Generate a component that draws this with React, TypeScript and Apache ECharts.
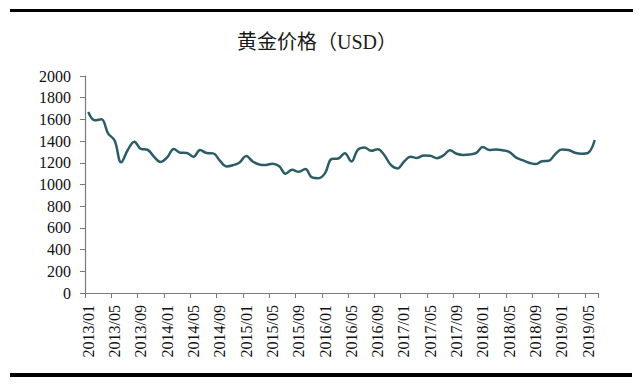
import React, { useEffect, useRef } from "react";
import * as echarts from "echarts";

const years = [2013, 2014, 2015, 2016, 2017, 2018, 2019];
const categories: string[] = [];
years.forEach((y) => {
  for (let m = 1; m <= 12; m++) {
    if (y === 2019 && m > 6) break;
    categories.push(`${y}/${m < 10 ? "0" + m : m}`);
  }
});

const gold2013 = [1668, 1592, 1602, 1472, 1405, 1205, 1318, 1395, 1328, 1320, 1255, 1208];
const gold2014 = [1250, 1328, 1293, 1290, 1255, 1318, 1290, 1287, 1220, 1167, 1178, 1203];
const gold2015 = [1262, 1212, 1185, 1180, 1192, 1170, 1100, 1135, 1117, 1143, 1066, 1058];
const gold2016 = [1105, 1235, 1240, 1287, 1212, 1322, 1342, 1310, 1325, 1272, 1180, 1148];
const gold2017 = [1210, 1255, 1245, 1268, 1265, 1243, 1268, 1315, 1283, 1272, 1276, 1292];
const gold2018 = [1345, 1318, 1323, 1316, 1300, 1250, 1224, 1201, 1188, 1215, 1218, 1280];
const gold2019 = [1322, 1318, 1292, 1283, 1292, 1410];
const goldPrice = [
  ...gold2013, ...gold2014, ...gold2015, ...gold2016, ...gold2017, ...gold2018, ...gold2019,
];

const titleText = "黄金价格（USD）";
const yMin = 0;
const yMax = 2000;
const yInterval = 200;

export default function App() {
  const ref = useRef<HTMLDivElement>(null);
  useEffect(() => {
    if (!ref.current) return;
    const chart = echarts.init(ref.current, null, { renderer: "svg" });
    const serif = "Liberation Serif";
    chart.setOption({
      animation: false,
      backgroundColor: "#ffffff",
      grid: { left: 85, right: 42, top: 76, bottom: 96, containLabel: false },
      graphic: [
        {
          type: "rect",
          shape: { x: 10, y: 9, width: 623, height: 3 },
          style: { fill: "#000" },
        },
        {
          type: "rect",
          shape: { x: 10, y: 373, width: 622, height: 4 },
          style: { fill: "#000" },
        },
        {
          type: "text",
          x: 317,
          y: 42,
          style: {
            text: titleText,
            fontFamily: "Liberation Serif, Noto Sans CJK SC",
            fontSize: 20,
            fontWeight: "normal",
            fill: "#1a1a1a",
            textAlign: "center",
            textVerticalAlign: "middle",
          },
        },
      ],
      xAxis: {
        type: "category",
        data: categories,
        boundaryGap: true,
        axisLine: { show: true, lineStyle: { color: "#7a7a7a", width: 1.2 } },
        axisTick: { show: true, interval: 3, length: 5, lineStyle: { color: "#7a7a7a" } },
        axisLabel: {
          interval: 3,
          rotate: 90,
          margin: 12,
          fontFamily: serif,
          fontSize: 16,
          color: "#111",
        },
        splitLine: { show: false },
      },
      yAxis: {
        type: "value",
        min: yMin,
        max: yMax,
        interval: yInterval,
        axisLine: { show: true, lineStyle: { color: "#7a7a7a", width: 1.2 } },
        axisTick: { show: true, length: 5, lineStyle: { color: "#7a7a7a" } },
        axisLabel: {
          margin: 14,
          fontFamily: serif,
          fontSize: 16,
          color: "#111",
          formatter: (v: number) => String(v),
        },
        splitLine: { show: false },
      },
      series: [
        {
          type: "line",
          data: goldPrice,
          smooth: 0.4,
          showSymbol: false,
          symbol: "none",
          lineStyle: { color: "#2c5d66", width: 2.5 },
        },
      ],
    });
    return () => chart.dispose();
  }, []);
  return (
    <div
      ref={ref}
      style={{ position: "absolute", left: 0, top: 0, width: 640, height: 389 }}
    />
  );
}
